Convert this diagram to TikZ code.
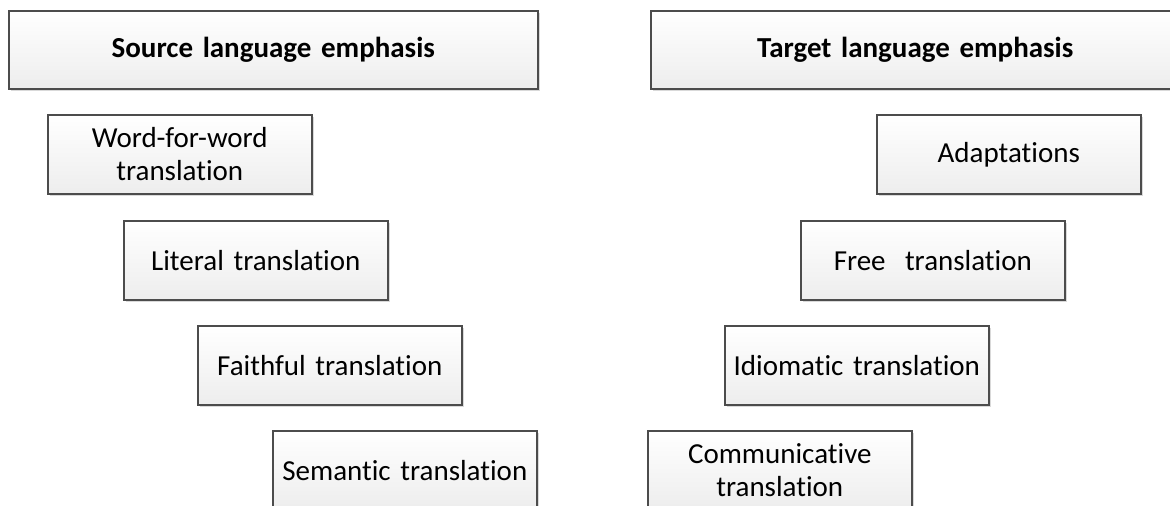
\documentclass[tikz,border=0pt]{standalone}
\usepackage{fontspec}
\setmainfont{Carlito}[Ligatures={NoCommon}, WordSpace={0.85}]
\usetikzlibrary{shadows}
\begin{document}
\begin{tikzpicture}[x=1pt,y=-1pt,
  box/.style={draw=black!70, line width=1.6pt, top color=white, bottom color=black!7,
    drop shadow={shadow xshift=2.5pt, shadow yshift=-2.5pt, opacity=0.25, fill=black!60},
    anchor=north west, align=center, inner sep=0pt,
    font=\fontsize{29}{33}\selectfont, text=black},
  smallbox/.style={box, minimum width=264pt, minimum height=79pt, text width=250pt},
  headbox/.style={box, minimum width=529pt, minimum height=78pt, text width=500pt,
    font=\fontsize{29}{33}\selectfont\bfseries}
]
\useasboundingbox (0,0) rectangle (1170,506);
\clip (0,0) rectangle (1170,506);
\node[headbox] (src) at (8,10) {Source language emphasis};
\node[headbox] (tgt) at (650,10) {Target language emphasis};
\node[smallbox] (wfw) at (47,114) {Word-for-word\\translation};
\node[smallbox] (lit) at (123,220) {Literal translation};
\node[smallbox] (fai) at (197,325) {Faithful translation};
\node[smallbox] (sem) at (272,430) {Semantic translation};
\node[smallbox] (ada) at (876,114) {Adaptations};
\node[smallbox] (fre) at (800,220) {Free\ \ translation};
\node[smallbox] (idi) at (724,325) {Idiomatic translation};
\node[smallbox] (com) at (647,430) {Communicative\\translation};
\end{tikzpicture}
\end{document}
